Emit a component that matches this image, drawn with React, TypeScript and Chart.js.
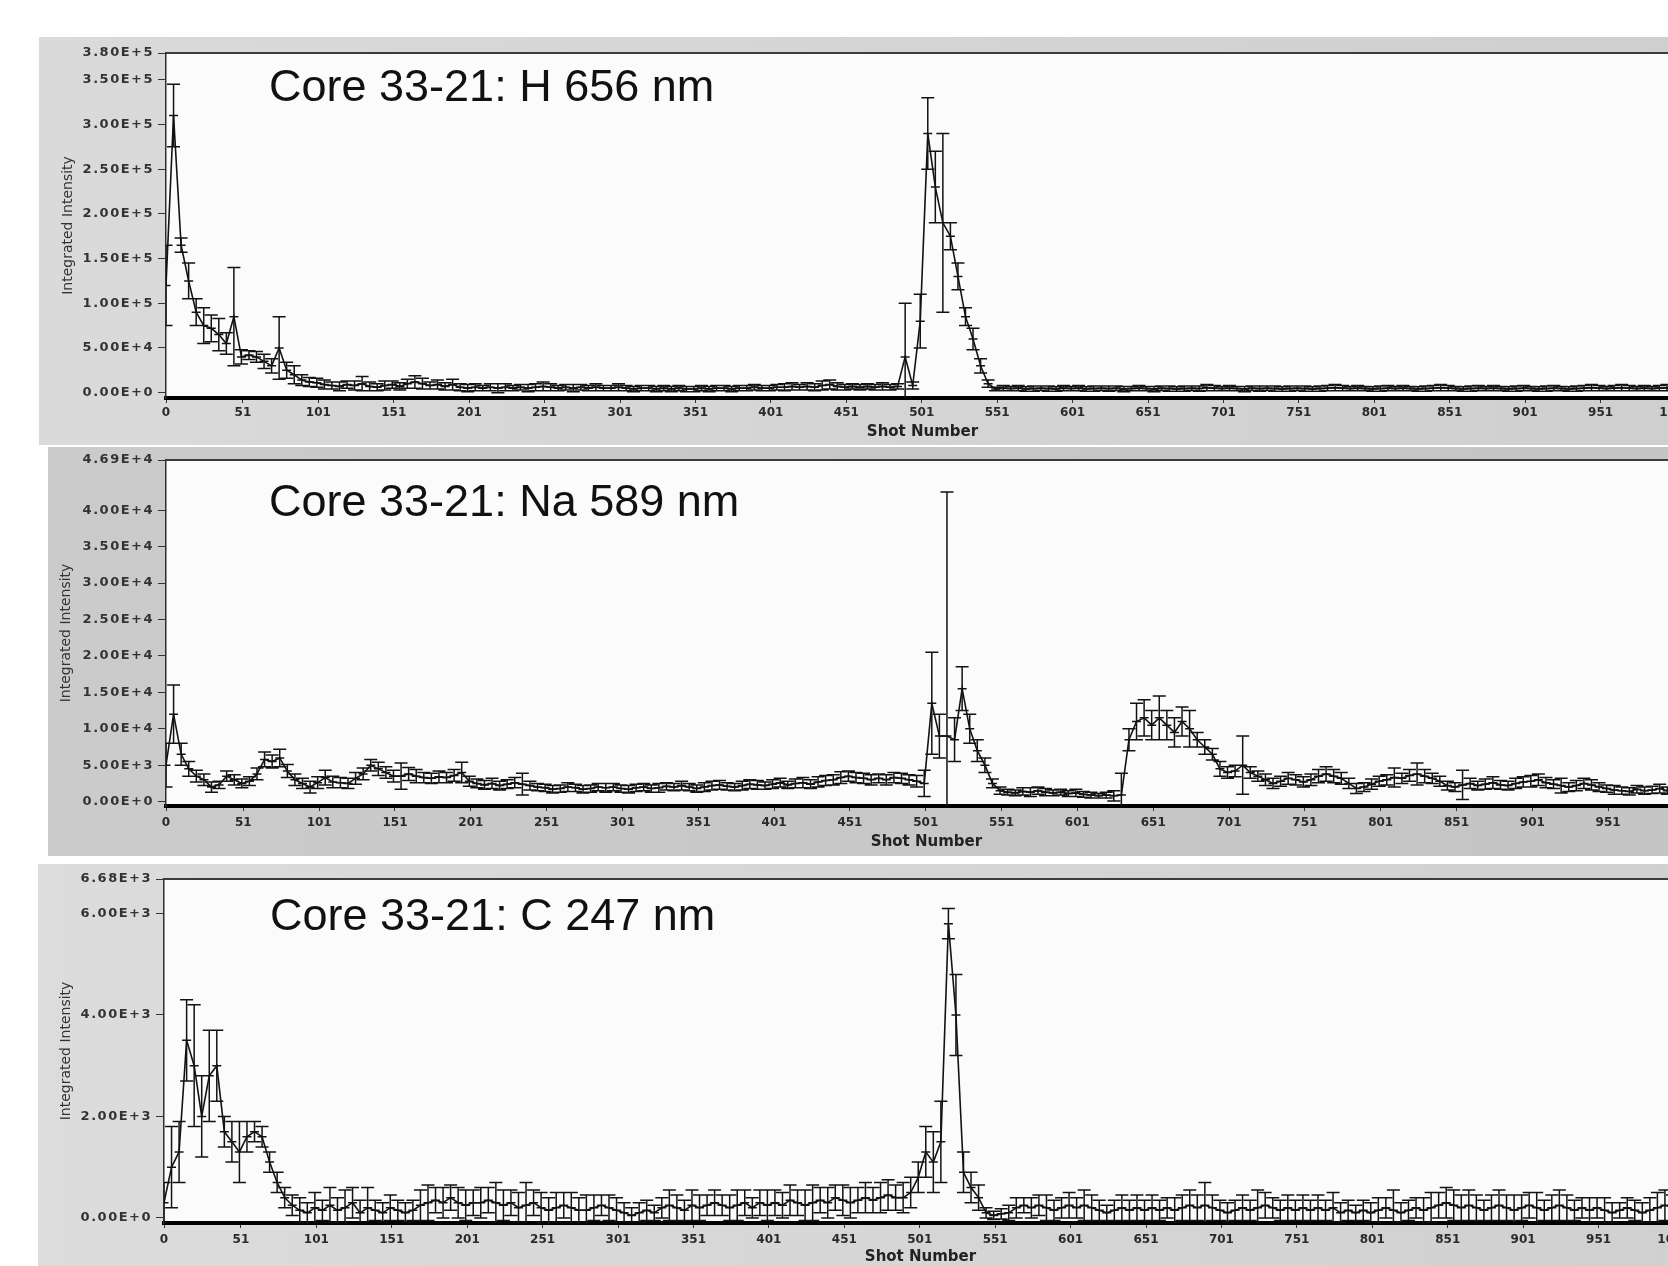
import React, { useEffect, useRef } from 'react';
import { Chart, registerables } from 'chart.js';

Chart.register(...registerables);

// ---------- DATA ----------
const SHOTS = [
  0, 5, 10, 15, 20, 25, 30, 35, 40, 45,
  50, 55, 60, 65, 70, 75, 80, 85, 90, 95,
  100, 105, 110, 115, 120, 125, 130, 135, 140, 145,
  150, 155, 160, 165, 170, 175, 180, 185, 190, 195,
  200, 205, 210, 215, 220, 225, 230, 235, 240, 245,
  250, 255, 260, 265, 270, 275, 280, 285, 290, 295,
  300, 305, 310, 315, 320, 325, 330, 335, 340, 345,
  350, 355, 360, 365, 370, 375, 380, 385, 390, 395,
  400, 405, 410, 415, 420, 425, 430, 435, 440, 445,
  450, 455, 460, 465, 470, 475, 480, 485, 490, 495,
  500, 505, 510, 515, 520, 525, 530, 535, 540, 545,
  550, 555, 560, 565, 570, 575, 580, 585, 590, 595,
  600, 605, 610, 615, 620, 625, 630, 635, 640, 645,
  650, 655, 660, 665, 670, 675, 680, 685, 690, 695,
  700, 705, 710, 715, 720, 725, 730, 735, 740, 745,
  750, 755, 760, 765, 770, 775, 780, 785, 790, 795,
  800, 805, 810, 815, 820, 825, 830, 835, 840, 845,
  850, 855, 860, 865, 870, 875, 880, 885, 890, 895,
  900, 905, 910, 915, 920, 925, 930, 935, 940, 945,
  950, 955, 960, 965, 970, 975, 980, 985, 990, 995,
  1000, 1005,
];

const H_VALUES = [
  120000, 310000, 165000, 125000, 90000, 75000, 72000, 65000, 55000, 85000,
  40000, 42000, 40000, 35000, 30000, 50000, 25000, 20000, 14000, 12000,
  11000, 9000, 8000, 7000, 9000, 8000, 10000, 7000, 6000, 8000,
  9000, 7000, 10000, 12000, 10000, 8000, 9000, 7000, 9000, 6000,
  5000, 6000, 5000, 6000, 5000, 6000, 5000, 6000, 5000, 6000,
  7000, 6000, 5000, 6000, 5000, 6000, 5000, 6000, 5000, 5000,
  6000, 5000, 4000, 5000, 5000, 4000, 5000, 4000, 5000, 4000,
  4000, 5000, 4000, 5000, 5000, 4000, 5000, 5000, 6000, 5000,
  5000, 6000, 6000, 7000, 6000, 7000, 6000, 8000, 9000, 7000,
  6000, 7000, 6000, 7000, 6000, 7000, 6000, 7000, 40000, 8000,
  80000, 290000, 230000, 190000, 175000, 130000, 85000, 60000, 30000, 10000,
  4000, 5000, 4500, 5000, 4000, 4500, 5000, 4500, 4000, 5000,
  4500, 5000, 4000, 4500, 5000, 4500, 5000, 4000, 4500, 5000,
  4500, 4000, 5000, 4500, 4000, 4500, 5000, 4500, 5500, 5000,
  4500, 5000, 4500, 4000, 5000, 4500, 5000, 4500, 4000, 4500,
  5000, 4500, 4000, 4500, 5000, 5500, 5000, 4500, 5000, 4500,
  4000, 4500, 5000, 4500, 5000, 4500, 4000, 4500, 5000, 5500,
  5000, 4500, 4000, 4500, 5000, 4500, 5000, 4500, 4000, 4500,
  5000, 4500, 4000, 4500, 5000, 4500, 4000, 4500, 5000, 5500,
  5000, 4500, 5000, 5500, 5000, 4500, 5000, 4500, 5000, 5500,
  5000, 4500,
];
const H_ERRORS = [
  45000, 35000, 8000, 20000, 15000, 20000, 15000, 18000, 12000, 55000,
  8000, 5000, 6000, 8000, 8000, 35000, 9000, 10000, 6000, 5000,
  5000, 5000, 4000, 5000, 4000, 5000, 8000, 5000, 4000, 5000,
  4000, 4000, 5000, 7000, 6000, 4000, 5000, 4000, 6000, 4000,
  4000, 4000, 3000, 4000, 5000, 4000, 3000, 3000, 4000, 4000,
  5000, 4000, 3000, 3000, 4000, 3000, 3000, 4000, 3000, 3000,
  4000, 3000, 3000, 3000, 3000, 3000, 3000, 3000, 3000, 3000,
  3000, 3000, 3000, 3000, 3000, 3000, 3000, 3000, 3000, 3000,
  3000, 3000, 4000, 4000, 3000, 4000, 4000, 5000, 5000, 4000,
  3000, 3000, 3000, 3000, 3000, 4000, 3000, 3000, 60000, 4000,
  30000, 40000, 40000, 100000, 15000, 15000, 10000, 12000, 8000, 4000,
  2000, 3000, 2500, 3000, 2500, 3000, 2500, 3000, 2500, 3000,
  2500, 3000, 2500, 3000, 2500, 3000, 2500, 3000, 2500, 3000,
  2500, 3000, 2500, 3000, 2500, 3000, 2500, 3000, 3500, 3000,
  2500, 3000, 2500, 3000, 2500, 3000, 2500, 3000, 2500, 3000,
  2500, 3000, 2500, 3000, 3000, 3500, 3000, 2500, 3000, 2500,
  2500, 3000, 3000, 2500, 3000, 2500, 2500, 3000, 3000, 3500,
  3000, 2500, 2500, 3000, 3000, 2500, 3000, 2500, 2500, 3000,
  3000, 2500, 2500, 3000, 3000, 2500, 2500, 3000, 3000, 3500,
  3000, 2500, 3000, 3500, 3000, 2500, 3000, 2500, 3000, 3500,
  3000, 2500,
];

const NA_VALUES = [
  5000, 12000, 6500, 4500, 3500, 3000, 2000, 2300, 3500, 3000,
  2500, 2800, 3800, 5800, 5500, 6000, 4200, 3000, 2500, 2000,
  2600, 3300, 2700, 2600, 2500, 3200, 3800, 5000, 4500, 4000,
  3500, 3500, 3800, 3500, 3300, 3200, 3400, 3300, 3600, 4000,
  2800, 2500, 2300, 2500, 2200, 2400, 2600, 2400, 2200, 2000,
  1900, 1700, 1800, 2000, 1900, 1700, 1800, 2000, 1900, 2000,
  1800, 1700, 1900, 2000, 1800, 1900, 2100, 2000, 2200, 2000,
  1800, 2000, 2200, 2300, 2100, 2000, 2200, 2400, 2300, 2200,
  2400, 2600, 2300, 2500, 2600, 2400, 2700, 2900, 3000, 3300,
  3500, 3300, 3200, 3000, 3200, 3000, 3300, 3200, 3000, 2800,
  2500, 13500, 9000, 9000, 8500, 15500, 10000, 7000, 5000, 2500,
  1500, 1300, 1200, 1400, 1300, 1500, 1300, 1200, 1300, 1100,
  1200, 1000, 900, 800, 900, 800, 900, 8500, 11000, 11500,
  10500, 11500, 10500, 9500, 11000, 10000, 8500, 7500, 6500, 4500,
  4000, 4200, 5000, 4000, 3500, 3000, 2500, 2800, 3200, 3000,
  2700, 3000, 3500, 3800, 3500, 3200, 2500, 1800, 2000, 2400,
  2800, 3000, 3300, 3200, 3600, 3800, 3500, 3200, 2800, 2200,
  2000, 2300, 2500, 2200, 2400, 2600, 2300, 2200, 2500, 2700,
  2800, 3000, 2600, 2400, 2200, 2000, 2200, 2500, 2300, 2000,
  1800, 1600, 1500, 1400, 1700, 1500, 1600, 1800, 1500, 1700,
  1600, 1800,
];
const NA_ERRORS = [
  3000, 4000, 1500, 1000, 800, 800, 700, 500, 700, 700,
  600, 600, 800, 1000, 900, 1200, 900, 800, 700, 800,
  800, 1000, 800, 700, 700, 800, 800, 800, 900, 800,
  800, 1800, 900, 900, 700, 700, 800, 700, 800, 1400,
  700, 600, 600, 700, 600, 600, 700, 1500, 600, 500,
  500, 500, 500, 600, 500, 500, 500, 500, 600, 500,
  500, 500, 500, 500, 500, 600, 500, 500, 600, 500,
  500, 600, 600, 600, 500, 500, 600, 600, 600, 500,
  600, 600, 500, 600, 700, 600, 700, 700, 700, 800,
  700, 700, 700, 700, 600, 700, 700, 700, 700, 800,
  1800, 7000, 3000, 33500, 3000, 3000, 2000, 1500, 1000, 600,
  500, 400, 400, 500, 600, 500, 500, 400, 400, 400,
  500, 400, 400, 300, 400, 700, 3000, 1500, 2500, 2500,
  2000, 3000, 2000, 2000, 2000, 2500, 1000, 1000, 800, 1000,
  800, 800, 4000, 800, 700, 800, 700, 700, 800, 700,
  700, 800, 900, 1000, 900, 800, 700, 700, 600, 700,
  700, 700, 1300, 700, 800, 1500, 900, 700, 700, 600,
  600, 2000, 700, 600, 700, 800, 600, 600, 700, 700,
  800, 800, 700, 600, 1000, 600, 700, 700, 700, 600,
  500, 600, 500, 500, 500, 500, 500, 600, 500, 500,
  500, 500,
];

const C_VALUES = [
  300, 1000, 1300, 3500, 3000, 2000, 2800, 3000, 1700, 1500,
  1300, 1600, 1700, 1600, 1100, 700, 400, 250, 150, 100,
  200, 150, 250, 150, 200, 300, 100, 200, 150, 100,
  200, 150, 100, 150, 250, 300, 350, 300, 400, 300,
  250, 300, 300, 350, 300, 250, 300, 200, 250, 300,
  200, 150, 200, 250, 200, 150, 150, 200, 250, 200,
  150, 100, 50, 100, 150, 100, 200, 250, 200, 150,
  250, 200, 250, 300, 250, 200, 250, 300, 200, 300,
  250, 300, 250, 350, 300, 250, 300, 350, 300, 400,
  350, 300, 350, 400, 350, 400, 450, 400, 400, 500,
  800, 1300, 1100, 1500, 5800, 4000, 900, 600, 400, 100,
  50, 80, 100, 200, 250, 200, 250, 200, 150, 200,
  250, 200, 250, 200, 150, 100, 150, 200, 150, 200,
  150, 200, 150, 200, 150, 200, 250, 200, 250, 200,
  150, 100, 150, 200, 150, 200, 250, 200, 150, 200,
  150, 200, 150, 200, 150, 200, 100, 150, 100, 150,
  100, 150, 200, 150, 100, 150, 200, 150, 200, 250,
  300, 250, 200, 250, 200, 150, 200, 250, 200, 150,
  200, 250, 200, 150, 200, 250, 200, 150, 200, 150,
  200, 150, 100, 150, 200, 150, 100, 150, 200, 250,
  200, 250,
];
const C_ERRORS = [
  400, 800, 600, 800, 1200, 800, 900, 700, 300, 400,
  600, 300, 200, 200, 200, 200, 200, 200, 250, 200,
  300, 200, 350, 250, 350, 300, 250, 400, 200, 200,
  250, 200, 200, 200, 300, 350, 250, 300, 250, 300,
  300, 250, 300, 250, 400, 300, 250, 300, 450, 250,
  300, 250, 300, 250, 300, 250, 300, 250, 200, 250,
  250, 200, 150, 200, 200, 150, 200, 300, 250, 200,
  300, 250, 200, 250, 200, 250, 300, 250, 200, 250,
  300, 250, 250, 300, 250, 300, 350, 250, 300, 250,
  300, 300, 250, 300, 250, 300, 300, 250, 300, 300,
  300, 500, 600, 800, 300, 800, 400, 300, 250, 100,
  80, 100, 150, 200, 150, 200, 200, 250, 200, 200,
  250, 200, 300, 250, 200, 150, 200, 250, 200, 250,
  200, 250, 200, 200, 250, 250, 300, 250, 450, 250,
  200, 200, 200, 250, 200, 350, 250, 200, 200, 250,
  200, 250, 200, 250, 200, 300, 200, 200, 150, 200,
  200, 250, 200, 400, 200, 200, 200, 250, 300, 250,
  300, 300, 250, 300, 250, 200, 250, 300, 250, 300,
  250, 250, 300, 200, 250, 300, 250, 200, 200, 250,
  200, 250, 200, 150, 200, 200, 200, 250, 300, 300,
  250, 300,
];

const X_TICKS = [0, 51, 101, 151, 201, 251, 301, 351, 401, 451, 501, 551, 601, 651, 701, 751, 801, 851, 901, 951, 1001];
const X_TICK_LABELS = ['0', '51', '101', '151', '201', '251', '301', '351', '401', '451', '501', '551', '601', '651', '701', '751', '801', '851', '901', '951', '1001'];

const H_TICKS = [0, 50000, 100000, 150000, 200000, 250000, 300000, 350000, 380000];
const H_TICK_LABELS = ['0.00E+0', '5.00E+4', '1.00E+5', '1.50E+5', '2.00E+5', '2.50E+5', '3.00E+5', '3.50E+5', '3.80E+5'];
const NA_TICKS = [0, 5000, 10000, 15000, 20000, 25000, 30000, 35000, 40000, 46900];
const NA_TICK_LABELS = ['0.00E+0', '5.00E+3', '1.00E+4', '1.50E+4', '2.00E+4', '2.50E+4', '3.00E+4', '3.50E+4', '4.00E+4', '4.69E+4'];
const C_TICKS = [0, 2000, 4000, 6000, 6680];
const C_TICK_LABELS = ['0.00E+0', '2.00E+3', '4.00E+3', '6.00E+3', '6.68E+3'];

const TITLES = ['Core 33-21: H 656 nm', 'Core 33-21: Na 589 nm', 'Core 33-21: C 247 nm'];

// ---------- PANEL ----------
type PanelDef = {
  title: string;
  values: number[];
  errors: number[];
  yMin: number;
  yMax: number;
  yTicks: number[];
  yTickLabels: string[];
  left: number;
  top: number;
  width: number;
  height: number;
  padLeft: number;
  padTop: number;
  padRight: number;
  yWidth: number;
  xHeight: number;
  xTitlePadBottom: number;
  xTickLen: number;
  xTickPad: number;
  titleDx: number;
  titleDy: number;
  bgLeft: string;
  bgRight: string;
};

const AXIS_FONT = '"DejaVu Sans", Verdana, sans-serif';

function withLetterSpacing(scale: any, spacing: string) {
  if (scale.__spaced) return;
  const orig = scale.drawLabels.bind(scale);
  scale.drawLabels = (area: any) => {
    const c = scale.ctx;
    c.save();
    try {
      c.letterSpacing = spacing;
    } catch (e) {
      /* ignore */
    }
    orig(area);
    c.restore();
  };
  scale.__spaced = true;
}

function Panel(p: PanelDef) {
  const ref = useRef<HTMLCanvasElement | null>(null);

  useEffect(() => {
    const canvas = ref.current;
    if (!canvas) return;

    const bgPlugin = {
      id: 'panelBg',
      beforeDraw(chart: any) {
        const { ctx, chartArea: a, width, height } = chart;
        ctx.save();
        const g = ctx.createLinearGradient(0, 0, width, 0);
        g.addColorStop(0, p.bgLeft);
        g.addColorStop(1, p.bgRight);
        ctx.fillStyle = g;
        ctx.fillRect(0, 0, width, height);
        ctx.fillStyle = '#fbfbfb';
        ctx.fillRect(a.left, a.top, a.right - a.left, a.bottom - a.top);
        ctx.restore();
      },
    };

    const errorBarPlugin = {
      id: 'errorBars',
      afterDatasetsDraw(chart: any) {
        const { ctx, chartArea: a } = chart;
        const xs = chart.scales.x;
        const ys = chart.scales.y;
        ctx.save();
        ctx.beginPath();
        ctx.rect(a.left, a.top, a.right - a.left, a.bottom - a.top);
        ctx.clip();
        ctx.strokeStyle = '#121212';
        ctx.lineWidth = 1.5;
        ctx.beginPath();
        for (let i = 0; i < SHOTS.length; i++) {
          const v = p.values[i];
          const e = p.errors[i];
          const px = xs.getPixelForValue(SHOTS[i]);
          const pt = ys.getPixelForValue(v + e);
          const pb = ys.getPixelForValue(v - e);
          const pm = ys.getPixelForValue(v);
          ctx.moveTo(px, pt);
          ctx.lineTo(px, pb);
          ctx.moveTo(px - 6.5, pt);
          ctx.lineTo(px + 6.5, pt);
          ctx.moveTo(px - 6.5, pb);
          ctx.lineTo(px + 6.5, pb);
          ctx.moveTo(px - 4.5, pm);
          ctx.lineTo(px + 4.5, pm);
        }
        ctx.stroke();
        ctx.restore();
      },
    };

    const framePlugin = {
      id: 'frame',
      afterDraw(chart: any) {
        const { ctx, chartArea: a, width } = chart;
        ctx.save();
        ctx.strokeStyle = '#3c3c3c';
        ctx.lineWidth = 2;
        ctx.beginPath();
        ctx.moveTo(a.left, a.top);
        ctx.lineTo(width, a.top);
        ctx.stroke();
        ctx.fillStyle = '#111111';
        ctx.font = '45px "Liberation Sans", Arial, sans-serif';
        ctx.textBaseline = 'middle';
        ctx.textAlign = 'left';
        ctx.fillText(p.title, a.left + p.titleDx, a.top + p.titleDy);
        ctx.restore();
      },
    };

    const chart = new Chart(canvas, {
      type: 'line',
      data: {
        datasets: [
          {
            data: SHOTS.map((s, i) => ({ x: s, y: p.values[i] })),
            borderColor: '#121212',
            borderWidth: 1.6,
            pointRadius: 0,
            tension: 0,
            fill: false,
            clip: 0,
          } as any,
        ],
      },
      options: {
        responsive: false,
        animation: false,
        devicePixelRatio: 1,
        events: [],
        layout: {
          padding: { left: p.padLeft, top: p.padTop, right: p.padRight, bottom: 0 },
        },
        plugins: {
          legend: { display: false },
          tooltip: { enabled: false },
          title: { display: false },
        },
        scales: {
          x: {
            type: 'linear',
            min: 0,
            max: 1003,
            afterFit: (s: any) => {
              s.height = p.xHeight;
            },
            afterBuildTicks: (s: any) => {
              s.ticks = X_TICKS.map((v) => ({ value: v }));
            },
            ticks: {
              autoSkip: false,
              maxRotation: 0,
              minRotation: 0,
              padding: p.xTickPad,
              color: '#2a2a2a',
              font: { family: AXIS_FONT, size: 12, weight: 'bold' },
              callback: (v: any) => X_TICK_LABELS[X_TICKS.indexOf(Number(v))] ?? '',
            },
            grid: {
              drawOnChartArea: false,
              drawTicks: true,
              tickLength: p.xTickLen,
              tickColor: '#333333',
              lineWidth: 1,
            },
            border: { display: true, color: '#000000', width: 4 },
            title: {
              display: true,
              text: 'Shot Number',
              color: '#222222',
              font: { family: AXIS_FONT, size: 15, weight: 'bold' },
              padding: { top: 0, bottom: p.xTitlePadBottom },
            },
          },
          y: {
            type: 'linear',
            min: p.yMin,
            max: p.yMax,
            afterFit: (s: any) => {
              s.width = p.yWidth;
              withLetterSpacing(s, '1.5px');
            },
            afterBuildTicks: (s: any) => {
              s.ticks = p.yTicks.map((v) => ({ value: v }));
            },
            ticks: {
              autoSkip: false,
              padding: 4,
              color: '#333333',
              font: { family: AXIS_FONT, size: 13, weight: 'bold' },
              callback: (v: any) => p.yTickLabels[p.yTicks.indexOf(Number(v))] ?? '',
            },
            grid: {
              drawOnChartArea: false,
              drawTicks: true,
              tickLength: 8,
              tickColor: '#333333',
              lineWidth: 1,
            },
            border: { display: true, color: '#2e2e2e', width: 1.5 },
            title: {
              display: true,
              text: 'Integrated Intensity',
              color: '#333333',
              font: { family: AXIS_FONT, size: 14 },
              padding: { top: 3, bottom: 3 },
            },
          },
        },
      } as any,
      plugins: [bgPlugin, errorBarPlugin, framePlugin],
    });

    return () => {
      chart.destroy();
    };
  }, []);

  return (
    <canvas
      ref={ref}
      width={p.width}
      height={p.height}
      style={{ position: 'absolute', left: p.left, top: p.top, width: p.width, height: p.height, display: 'block' }}
    />
  );
}

export default function App() {
  return (
    <div
      style={{
        position: 'absolute',
        left: 0,
        top: 0,
        width: 1668,
        height: 1266,
        overflow: 'hidden',
        background: '#ffffff',
      }}
    >
      <Panel
        title={TITLES[0]}
        values={H_VALUES}
        errors={H_ERRORS}
        yMin={-6000}
        yMax={380000}
        yTicks={H_TICKS}
        yTickLabels={H_TICK_LABELS}
        left={39}
        top={37}
        width={1680}
        height={408}
        padLeft={18}
        padTop={16}
        padRight={40}
        yWidth={109}
        xHeight={47}
        xTitlePadBottom={4}
        xTickLen={5}
        xTickPad={3}
        titleDx={103}
        titleDy={36}
        bgLeft="#dadada"
        bgRight="#cfcfcf"
      />
      <Panel
        title={TITLES[1]}
        values={NA_VALUES}
        errors={NA_ERRORS}
        yMin={-600}
        yMax={46900}
        yTicks={NA_TICKS}
        yTickLabels={NA_TICK_LABELS}
        left={48}
        top={447}
        width={1680}
        height={409}
        padLeft={7}
        padTop={13}
        padRight={41}
        yWidth={111}
        xHeight={50}
        xTitlePadBottom={5}
        xTickLen={5}
        xTickPad={5}
        titleDx={103}
        titleDy={44}
        bgLeft="#cbcbcb"
        bgRight="#c4c4c4"
      />
      <Panel
        title={TITLES[2]}
        values={C_VALUES}
        errors={C_ERRORS}
        yMin={-100}
        yMax={6680}
        yTicks={C_TICKS}
        yTickLabels={C_TICK_LABELS}
        left={38}
        top={864}
        width={1679}
        height={402}
        padLeft={17}
        padTop={15}
        padRight={40}
        yWidth={109}
        xHeight={43}
        xTitlePadBottom={0}
        xTickLen={5}
        xTickPad={5}
        titleDx={106}
        titleDy={39}
        bgLeft="#dcdcdc"
        bgRight="#d0d0d0"
      />
    </div>
  );
}
